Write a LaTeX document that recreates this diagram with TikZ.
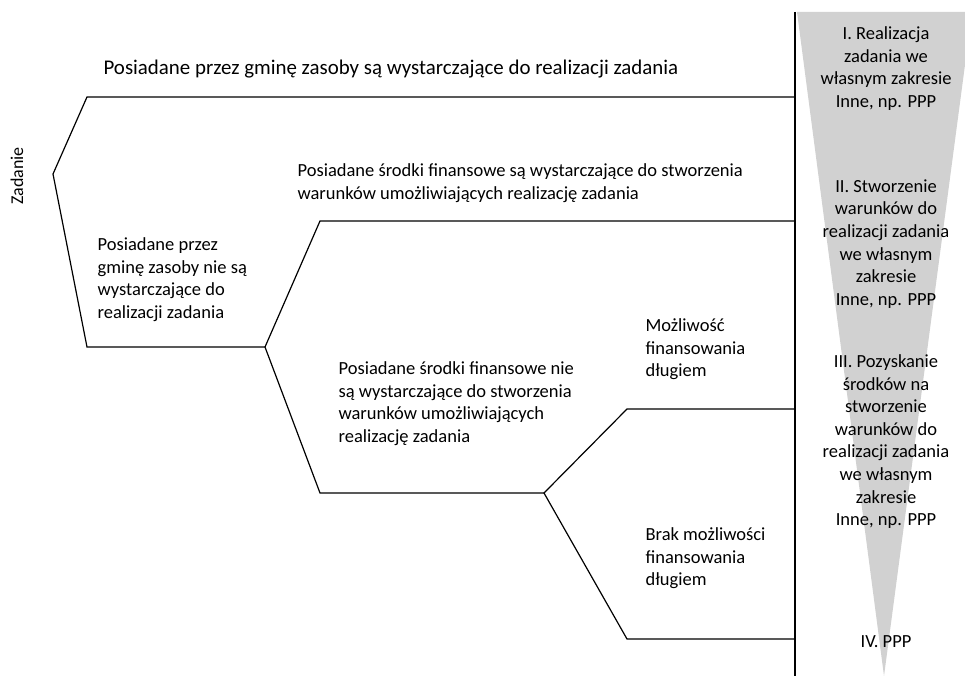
\documentclass[tikz,border=0pt]{standalone}
\usepackage{fontspec}
\setmainfont{Carlito}
\usetikzlibrary{positioning}
\definecolor{wedge}{RGB}{209,209,209}

\begin{document}
\begin{tikzpicture}[x=1pt, y=-1pt, line width=1.2pt,
	txt/.style={inner sep=0pt, align=left, anchor=north west, font=\fontsize{18.5}{22.6}\selectfont},
	res/.style={txt, align=center, anchor=north}]
	\useasboundingbox (0,0) rectangle (965,676);
	\begin{scope}
	\clip (0,0) rectangle (965,676);
	\fill[wedge] (797,12) -- (972,12) -- (884,676) -- cycle;
	\end{scope}
	\coordinate (bartop) at (795,12);
	\coordinate (barbot) at (795,676);
	\draw[line width=1.6pt] (bartop) -- (barbot);
	\coordinate (root) at (53,174);
	\coordinate (a1) at (87,97);    \coordinate (a2) at (795,97);
	\coordinate (b1) at (87,347);   \coordinate (b2) at (265,347);
	\coordinate (c1) at (320,221);  \coordinate (c2) at (795,221);
	\coordinate (d1) at (320,493);  \coordinate (d2) at (544,493);
	\coordinate (e1) at (627,409);  \coordinate (e2) at (795,409);
	\coordinate (f1) at (627,639);  \coordinate (f2) at (795,639);
	\draw (a2) -- (a1) -- (root) -- (b1) -- (b2);
	\draw (c2) -- (c1) -- (b2) -- (d1) -- (d2);
	\draw (e2) -- (e1) -- (d2) -- (f1) -- (f2);
	\node[txt, anchor=center, rotate=90, font=\fontsize{18}{22}\selectfont] (zad) at (17,176) {Zadanie};
	\node[txt, anchor=base west, font=\fontsize{20.9}{25}\selectfont] (zasobytak) at (103,75) {Posiadane przez gminę zasoby są wystarczające do realizacji zadania};
	\node[txt] (zasobynie) at (97,237) {Posiadane przez\\gminę zasoby nie są\\wystarczające do\\realizacji zadania};
	\node[txt] (srodkitak) at (297,163) {Posiadane środki finansowe są wystarczające do stworzenia\\warunków umożliwiających realizację zadania};
	\node[txt] (srodkinie) at (338,361) {Posiadane środki finansowe nie\\są wystarczające do stworzenia\\warunków umożliwiających\\realizację zadania};
	\node[txt] (dlug) at (645,318) {Możliwość\\finansowania\\długiem};
	\node[txt] (brak) at (645,527) {Brak możliwości\\finansowania\\długiem};
	\node[res] (w1) at (886,26) {I. Realizacja\\zadania we\\własnym zakresie\\Inne, np. PPP};
	\node[res] (w2) at (886,179) {II. Stworzenie\\warunków do\\realizacji zadania\\we własnym\\zakresie\\Inne, np. PPP};
	\node[res] (w3) at (886,354) {III. Pozyskanie\\środków na\\stworzenie\\warunków do\\realizacji zadania\\we własnym\\zakresie\\Inne, np. PPP};
	\node[res] (w4) at (886,635) {IV. PPP};
\end{tikzpicture}
\end{document}
